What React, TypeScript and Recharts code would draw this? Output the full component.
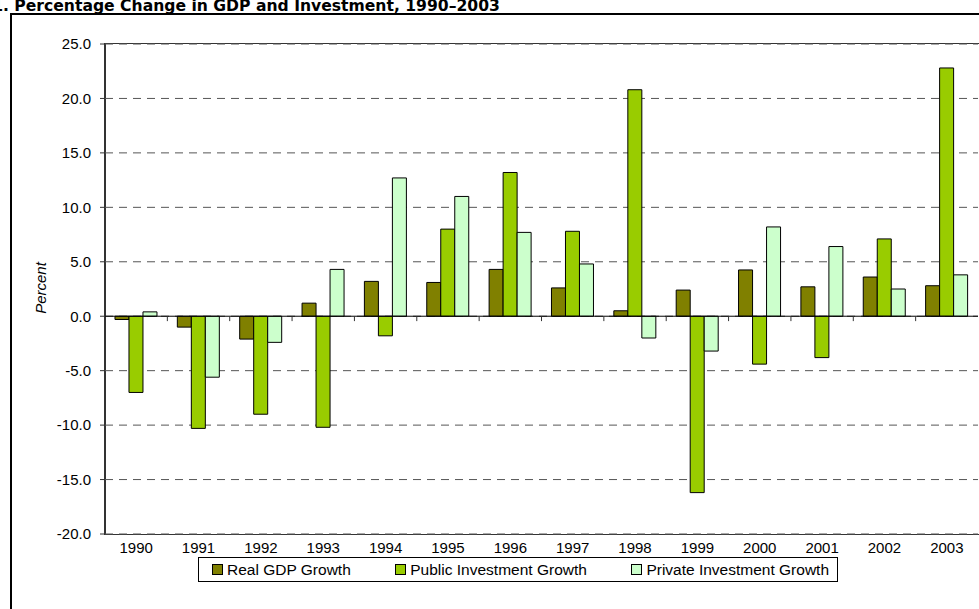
import React from "react";
import { BarChart, Bar, XAxis, YAxis, CartesianGrid, ReferenceLine } from "recharts";

const years = ["1990", "1991", "1992", "1993", "1994", "1995", "1996", "1997", "1998", "1999", "2000", "2001", "2002", "2003"];
const realGdp = [-0.3, -1.0, -2.1, 1.2, 3.2, 3.1, 4.3, 2.6, 0.5, 2.4, 4.25, 2.7, 3.6, 2.8];
const publicInv = [-7.0, -10.3, -9.0, -10.2, -1.8, 8.0, 13.2, 7.8, 20.8, -16.2, -4.4, -3.8, 7.1, 22.8];
const privateInv = [0.4, -5.6, -2.4, 4.3, 12.7, 11.0, 7.7, 4.8, -2.0, -3.2, 8.2, 6.4, 2.5, 3.8];
const yTicks = [-20, -15, -10, -5, 0, 5, 10, 15, 20, 25];

const series = [
  { key: "gdp", name: "Real GDP Growth", color: "#808000" },
  { key: "pub", name: "Public Investment Growth", color: "#99CC00" },
  { key: "priv", name: "Private Investment Growth", color: "#CCFFCC" },
];

const data = years.map((year, i) => ({
  year,
  idx: i,
  gdp: realGdp[i],
  pub: publicInv[i],
  priv: privateInv[i],
}));

const font = "'Liberation Sans', Arial, sans-serif";

export default function App() {
  return (
    <div style={{ position: "absolute", left: 0, top: 0, width: 979, height: 609, overflow: "hidden", background: "#fff" }}>
      {/* title, partly cut off at the top edge */}
      <div
        style={{
          position: "absolute",
          left: 3,
          top: -3,
          whiteSpace: "nowrap",
          fontFamily: "'DejaVu Sans', Verdana, sans-serif",
          fontWeight: "bold",
          fontSize: 15.6,
          color: "#000",
        }}
      >
        <span style={{ position: "relative" }}>
          <span style={{ position: "absolute", right: "100%" }}>Figure 1</span>
          . Percentage Change in GDP and Investment, 1990–2003
        </span>
      </div>

      {/* outer chart frame */}
      <div style={{ position: "absolute", left: 10, top: 13, width: 990, height: 620, border: "2px solid #000" }} />

      {/* plot area frame */}
      <div
        style={{
          position: "absolute",
          left: 104,
          top: 43,
          width: 873,
          height: 490,
          borderTop: "1px solid #333",
          borderLeft: "2px solid #333",
          borderRight: "1px solid #999",
          borderBottom: "1px solid #333",
        }}
      />

      <div
        style={{
          position: "absolute",
          left: 40,
          top: 288,
          transform: "translate(-50%, -50%) rotate(-90deg)",
          fontFamily: font,
          fontStyle: "italic",
          fontSize: 15,
          whiteSpace: "nowrap",
        }}
      >
        Percent
      </div>

      <div style={{ position: "absolute", left: 0, top: 0 }}>
        <BarChart
          width={979}
          height={609}
          data={data}
          margin={{ top: 44, right: 1, left: 45, bottom: 45 }}
          barCategoryGap="16%"
          barGap={0}
        >
          <CartesianGrid vertical={false} stroke="#555" strokeDasharray="8 6" />
          <XAxis
            dataKey="year"
            height={30}
            axisLine={false}
            tickLine={false}
            interval={0}
            tickMargin={2}
            tick={{ fill: "#000", fontSize: 15, fontFamily: font }}
          />
          <XAxis xAxisId="idx" dataKey="idx" type="number" domain={[0, 14]} hide />
          <YAxis
            width={60}
            domain={[-20, 25]}
            ticks={yTicks}
            interval={0}
            axisLine={false}
            tickSize={5}
            tickMargin={9}
            tickLine={{ stroke: "#333" }}
            tickFormatter={(v: number) => v.toFixed(1)}
            tick={{ fill: "#000", fontSize: 15, fontFamily: font }}
          />
          {series.map((s) => (
            <Bar key={s.key} dataKey={s.key} name={s.name} fill={s.color} stroke="#000" strokeWidth={1} isAnimationActive={false} />
          ))}
          <ReferenceLine y={0} stroke="#000" strokeWidth={1} />
          {years.slice(1).map((y, i) => (
            <ReferenceLine
              key={y}
              xAxisId="idx"
              segment={[
                { x: i + 1, y: 0 },
                { x: i + 1, y: -0.45 },
              ]}
              stroke="#333"
            />
          ))}
        </BarChart>
      </div>

      {/* legend */}
      <div
        style={{
          position: "absolute",
          left: 198,
          top: 557,
          width: 640,
          height: 25,
          border: "1px solid #000",
          background: "#fff",
          display: "flex",
          alignItems: "center",
          justifyContent: "space-between",
          fontFamily: font,
          fontSize: 15.5,
          color: "#000",
          boxSizing: "border-box",
          paddingLeft: 13,
          paddingRight: 8,
        }}
      >
        {series.map((s) => (
          <div key={s.key} style={{ display: "flex", alignItems: "center", whiteSpace: "nowrap" }}>
            <span
              style={{
                display: "inline-block",
                width: 9,
                height: 9,
                border: "1px solid #000",
                background: s.color,
                marginRight: 4,
              }}
            />
            {s.name}
          </div>
        ))}
      </div>
    </div>
  );
}
